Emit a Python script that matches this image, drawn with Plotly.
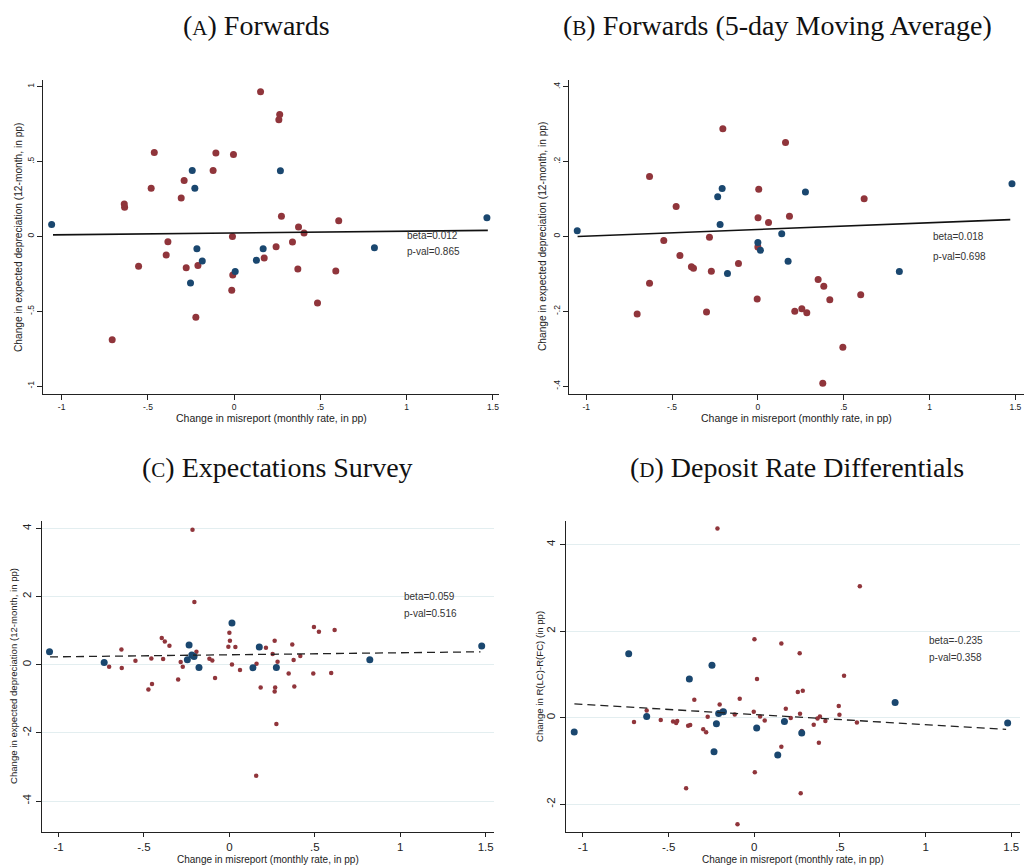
import plotly.graph_objects as go

W, H = 1024, 865

# ---------------- Panel A: Forwards ----------------
a_blue_x = [-1.058, -0.243, -0.228, -0.216, -0.185, -0.253, 0.006, 0.129, 0.168, 0.268, 0.813, 1.465]
a_blue_y = [0.080, 0.441, 0.321, -0.082, -0.165, -0.312, -0.234, -0.160, -0.082, 0.439, -0.076, 0.125]
a_red_x = [0.153, 0.264, 0.259, -0.463, -0.106, -0.004, -0.122, -0.290, -0.481, -0.307, -0.637, -0.635,
           0.274, 0.373, 0.606, 0.405, -0.010, -0.384, 0.338, 0.243, -0.394, -0.554, -0.278, -0.210,
           0.174, 0.369, 0.589, -0.008, -0.014, 0.483, -0.222, -0.707]
a_red_y = [0.967, 0.815, 0.780, 0.561, 0.557, 0.548, 0.441, 0.374, 0.321, 0.256, 0.216, 0.194,
           0.134, 0.062, 0.105, 0.022, 0.000, -0.036, -0.038, -0.069, -0.125, -0.200, -0.209, -0.194,
           -0.145, -0.218, -0.232, -0.258, -0.359, -0.445, -0.541, -0.690]
a_fit_x = [-1.05, 1.47]
a_fit_y = [0.010, 0.040]
a_text = ["beta=0.012", "p-val=0.865"]

# ---------------- Panel B: Forwards (5-day MA) ----------------
b_blue_x = [-1.052, -0.234, -0.208, -0.220, -0.177, 0.000, 0.015, 0.139, 0.176, 0.277, 0.824, 1.480]
b_blue_y = [0.015, 0.106, 0.128, 0.032, -0.099, -0.016, -0.037, 0.007, -0.066, 0.119, -0.094, 0.141]
b_red_x = [-0.204, 0.161, -0.631, 0.005, 0.619, -0.476, 0.001, 0.184, 0.062, -0.548, -0.282, -0.454,
           -0.387, -0.375, -0.271, -0.113, 0.000, -0.631, 0.351, 0.384, 0.419, 0.599, -0.004, 0.215,
           0.256, 0.285, -0.299, -0.703, 0.495, 0.378]
b_red_y = [0.288, 0.251, 0.160, 0.126, 0.101, 0.080, 0.050, 0.054, 0.037, -0.011, -0.002, -0.051,
           -0.081, -0.085, -0.093, -0.072, -0.028, -0.125, -0.115, -0.133, -0.169, -0.156, -0.167, -0.200,
           -0.193, -0.204, -0.202, -0.207, -0.296, -0.392]
b_fit_x = [-1.05, 1.47]
b_fit_y = [0.000, 0.045]
b_text = ["beta=0.018", "p-val=0.698"]

# ---------------- Panel C: Expectations Survey ----------------
c_blue_x = [-1.053, -0.733, -0.236, -0.246, -0.220, -0.207, -0.178, 0.015, 0.138, 0.175, 0.275, 0.822, 1.477]
c_blue_y = [0.381, 0.068, 0.577, 0.147, 0.284, 0.245, -0.078, 1.222, -0.088, 0.518, -0.078, 0.147, 0.548]
c_red_x = [-0.216, -0.205, -0.632, -0.704, -0.630, -0.550, -0.457, -0.474, -0.453, -0.396, -0.378, -0.351,
           -0.388, -0.285, -0.273, -0.300, -0.193, -0.117, -0.100, -0.084, -0.006, 0.000, 0.003, 0.035,
           0.015, 0.062, 0.159, 0.183, 0.214, 0.253, 0.265, 0.282, 0.268, 0.265, 0.275, 0.157,
           0.347, 0.368, 0.376, 0.380, 0.415, 0.491, 0.495, 0.524, 0.596, 0.616]
c_red_y = [3.961, 1.839, 0.450, -0.059, -0.098, 0.117, 0.186, -0.724, -0.567, 0.782, 0.685, 0.557,
           0.166, 0.078, -0.059, -0.430, 0.381, 0.176, 0.127, -0.391, 0.528, 0.939, 0.704, 0.518,
           0.010, -0.156, 0.029, -0.665, 0.499, 0.313, 0.704, 0.088, -0.665, -0.782, -1.741, -3.257,
           -0.254, 0.597, 0.137, -0.636, 0.254, -0.254, 1.105, 0.968, -0.245, 1.017]
c_fit_x = [-1.05, 1.47]
c_fit_y = [0.23, 0.38]
c_text = ["beta=0.059", "p-val=0.516"]

# ---------------- Panel D: Deposit Rate Differentials ----------------
d_blue_x = [-1.051, -0.733, -0.628, -0.379, -0.247, -0.221, -0.235, -0.208, -0.180, 0.014, 0.137, 0.176,
            0.277, 0.822, 1.479]
d_blue_y = [-0.331, 1.477, 0.031, 0.892, 1.215, -0.138, -0.785, 0.100, 0.138, -0.238, -0.862, -0.085,
            -0.354, 0.354, -0.123]
d_red_x = [-0.215, 0.616, 0.001, 0.158, 0.265, 0.524, 0.016, 0.254, 0.283, -0.350, -0.085, -0.202,
           0.493, 0.184, -0.628, -0.003, -0.188, -0.114, 0.267, 0.497, -0.272, 0.034, 0.213, 0.383,
           0.369, 0.061, 0.415, 0.599, -0.702, -0.546, -0.474, -0.450, -0.456, -0.386, -0.374, -0.298,
           -0.281, 0.277, 0.347, 0.377, 0.158, 0.003, -0.398, 0.271, -0.098]
d_red_y = [4.369, 3.038, 1.815, 1.715, 1.492, 0.969, 0.892, 0.592, 0.623, 0.415, 0.438, 0.308,
           0.269, 0.208, 0.169, 0.138, 0.162, 0.077, 0.092, 0.069, 0.023, 0.031, -0.008, 0.031,
           -0.015, -0.062, -0.077, -0.108, -0.100, -0.054, -0.085, -0.077, -0.123, -0.185, -0.169, -0.269,
           -0.338, -0.308, -0.162, -0.577, -0.669, -1.262, -1.631, -1.746, -2.462]
d_fit_x = [-1.05, 1.47]
d_fit_y = [0.32, -0.27]
d_text = ["beta=-0.235", "p-val=0.358"]

x_tickvals = [-1, -0.5, 0, 0.5, 1, 1.5]
x_ticktext = ["-1", "-.5", "0", ".5", "1", "1.5"]
ab_y_tickvals_a = [-1, -0.5, 0, 0.5, 1]
ab_y_ticktext_a = ["-1", "-.5", "0", ".5", "1"]
ab_y_tickvals_b = [-0.4, -0.2, 0, 0.2, 0.4]
ab_y_ticktext_b = ["-.4", "-.2", "0", ".2", ".4"]
c_y_tickvals = [-4, -2, 0, 2, 4]
c_y_ticktext = ["-4", "-2", "0", "2", "4"]
d_y_tickvals = [-2, 0, 2, 4]
d_y_ticktext = ["-2", "0", "2", "4"]

titles = ["(<span style='font-size:21px'>A</span>) Forwards",
          "(<span style='font-size:21px'>B</span>) Forwards (5-day Moving Average)",
          "(<span style='font-size:21px'>C</span>) Expectations Survey",
          "(<span style='font-size:21px'>D</span>) Deposit Rate Differentials"]
x_title = "Change in misreport (monthly rate, in pp)"
y_title_dep = "Change in expected depreciation (12-month, in pp)"
y_title_d = "Change in R(LC)-R(FC) (in pp)"

RED = "#90353b"
BLUE = "#1a476f"


def fx(p):
    return p / W


def fy(p):
    return 1 - p / H


panels = [
    dict(bx=a_blue_x, by=a_blue_y, rx=a_red_x, ry=a_red_y, fxs=a_fit_x, fys=a_fit_y, txt=a_text,
         xdom=(43, 499), ydom=(80, 394), xr=(-1.108, 1.535), yr=(-1.053, 1.045),
         ytv=ab_y_tickvals_a, ytt=ab_y_ticktext_a, grid=False, bsize=7, rsize=7, dash="solid",
         tick_font=8.5, ticklen=5, title=titles[0], title_pos=(256, 25), ytitle=y_title_dep,
         xt_pos=(271, 418), yt_pos=(19, 238), txt_pos=(405, 236, 251)),
    dict(bx=b_blue_x, by=b_blue_y, rx=b_red_x, ry=b_red_y, fxs=b_fit_x, fys=b_fit_y, txt=b_text,
         xdom=(569, 1024), ydom=(80, 394), xr=(-1.1, 1.55), yr=(-0.421, 0.418),
         ytv=ab_y_tickvals_b, ytt=ab_y_ticktext_b, grid=False, bsize=7, rsize=7, dash="solid",
         tick_font=8.5, ticklen=5, title=titles[1], title_pos=(777, 25), ytitle=y_title_dep,
         xt_pos=(796, 418), yt_pos=(543, 237), txt_pos=(931, 237, 256)),
    dict(bx=c_blue_x, by=c_blue_y, rx=c_red_x, ry=c_red_y, fxs=c_fit_x, fys=c_fit_y, txt=c_text,
         xdom=(42, 494), ydom=(521, 832), xr=(-1.097, 1.549), yr=(-4.91, 4.22),
         ytv=c_y_tickvals, ytt=c_y_ticktext, grid=True, bsize=7, rsize=4.5, dash="dash",
         tick_font=11.5, ticklen=4, title=titles[2], title_pos=(277, 467), ytitle=y_title_dep,
         xt_pos=(268, 859.5), yt_pos=(13, 676), txt_pos=(402, 596, 613)),
    dict(bx=d_blue_x, by=d_blue_y, rx=d_red_x, ry=d_red_y, fxs=d_fit_x, fys=d_fit_y, txt=d_text,
         xdom=(566, 1020), ydom=(521, 832), xr=(-1.099, 1.551), yr=(-2.64, 4.545),
         ytv=d_y_tickvals, ytt=d_y_ticktext, grid=True, bsize=7, rsize=4.5, dash="dash",
         tick_font=11.5, ticklen=4, title=titles[3], title_pos=(797, 467), ytitle=y_title_d,
         xt_pos=(793, 859.5), yt_pos=(539, 677), txt_pos=(927, 640, 657)),
]

fig = go.Figure()
annotations = []
layout_axes = {}

for i, p in enumerate(panels, start=1):
    xa = "x" if i == 1 else f"x{i}"
    ya = "y" if i == 1 else f"y{i}"
    fig.add_trace(go.Scatter(x=p["rx"], y=p["ry"], mode="markers", xaxis=xa, yaxis=ya,
                             marker=dict(color=RED, size=p["rsize"], line=dict(width=0)),
                             showlegend=False, hoverinfo="skip"))
    fig.add_trace(go.Scatter(x=p["bx"], y=p["by"], mode="markers", xaxis=xa, yaxis=ya,
                             marker=dict(color=BLUE, size=p["bsize"], line=dict(width=0)),
                             showlegend=False, hoverinfo="skip"))
    fig.add_trace(go.Scatter(x=p["fxs"], y=p["fys"], mode="lines", xaxis=xa, yaxis=ya,
                             line=dict(color="#111111" if p["dash"] == "solid" else "#222222",
                                       width=1.6 if p["dash"] == "solid" else 1.3,
                                       dash="solid" if p["dash"] == "solid" else "8px,5px"),
                             showlegend=False, hoverinfo="skip"))
    xkey = "xaxis" if i == 1 else f"xaxis{i}"
    ykey = "yaxis" if i == 1 else f"yaxis{i}"
    layout_axes[xkey] = dict(
        domain=[fx(p["xdom"][0]), fx(p["xdom"][1])], range=list(p["xr"]), anchor=ya,
        tickvals=x_tickvals, ticktext=x_ticktext, ticks="outside", ticklen=p["ticklen"], tickwidth=1,
        tickcolor="#222", showline=True, linecolor="#222", linewidth=1, showgrid=False,
        zeroline=False, tickfont=dict(family="Liberation Sans, Arial", size=p["tick_font"], color="#222"),
        automargin=False, fixedrange=True)
    layout_axes[ykey] = dict(
        domain=[fy(p["ydom"][1]), fy(p["ydom"][0])], range=list(p["yr"]), anchor=xa,
        tickvals=p["ytv"], ticktext=p["ytt"], ticks="outside", ticklen=5, tickwidth=1,
        tickcolor="#222", showline=True, linecolor="#222", linewidth=1,
        showgrid=p["grid"], gridcolor="#e3eef0", gridwidth=1, zeroline=False, tickangle=-90,
        tickfont=dict(family="Liberation Sans, Arial", size=p["tick_font"], color="#222"),
        automargin=False, fixedrange=True)
    # panel title
    annotations.append(dict(text=p["title"], x=fx(p["title_pos"][0]), y=fy(p["title_pos"][1]),
                            xref="paper", yref="paper", showarrow=False, xanchor="center", yanchor="middle",
                            font=dict(family="Liberation Serif, Times New Roman, serif", size=28, color="#111")))
    # axis titles
    annotations.append(dict(text=x_title, x=fx(p["xt_pos"][0]), y=fy(p["xt_pos"][1]),
                            xref="paper", yref="paper", showarrow=False, xanchor="center", yanchor="middle",
                            font=dict(family="Liberation Sans, Arial", size=10.5 if i <= 2 else 10, color="#222")))
    annotations.append(dict(text=p["ytitle"], x=fx(p["yt_pos"][0]), y=fy(p["yt_pos"][1]),
                            xref="paper", yref="paper", showarrow=False, xanchor="center", yanchor="middle",
                            textangle=-90,
                            font=dict(family="Liberation Sans, Arial", size=10.2 if i <= 2 else 9.6, color="#222")))
    # beta / p-val text
    tx, ty1, ty2 = p["txt_pos"]
    for t, ty in zip(p["txt"], (ty1, ty2)):
        annotations.append(dict(text=t, x=fx(tx), y=fy(ty), xref="paper", yref="paper", showarrow=False,
                                xanchor="left", yanchor="middle",
                                font=dict(family="Liberation Sans, Arial", size=10, color="#333")))

fig.update_layout(width=W, height=H, margin=dict(l=0, r=0, t=0, b=0),
                  paper_bgcolor="white", plot_bgcolor="white", annotations=annotations,
                  showlegend=False, **layout_axes)

fig.write_html("out.html", config={"displayModeBar": False})
